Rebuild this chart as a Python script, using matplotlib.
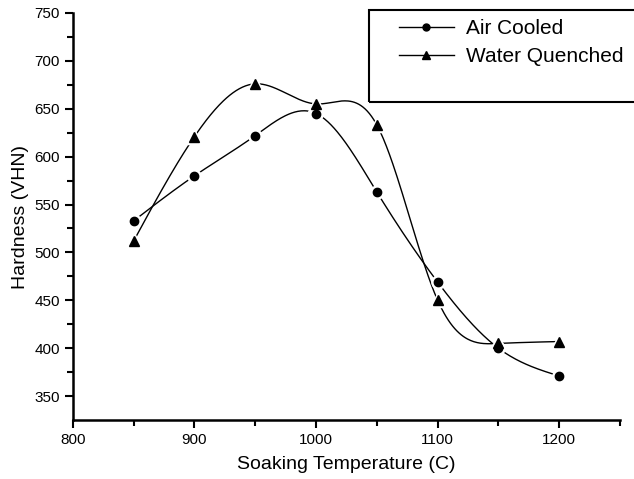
import numpy as np
import matplotlib.pyplot as plt
from matplotlib.patches import Rectangle

plt.rcParams['font.family'] = ['Liberation Sans', 'DejaVu Sans']

temps = [850, 900, 950, 1000, 1050, 1100, 1150, 1200]
air_cooled = [533, 580, 622, 645, 563, 469, 400, 371]
water_quenched = [512, 621, 676, 655, 633, 450, 405, 407]


def spline(x, y, n=400):
    # natural cubic spline through the points, just for drawing the curve
    x = np.asarray(x, float)
    y = np.asarray(y, float)
    h = np.diff(x)
    k = len(x)
    A = np.zeros((k, k))
    b = np.zeros(k)
    A[0, 0] = A[-1, -1] = 1
    for i in range(1, k - 1):
        A[i, i - 1] = h[i - 1]
        A[i, i] = 2 * (h[i - 1] + h[i])
        A[i, i + 1] = h[i]
        b[i] = 6 * ((y[i + 1] - y[i]) / h[i] - (y[i] - y[i - 1]) / h[i - 1])
    m = np.linalg.solve(A, b)
    xs = np.linspace(x[0], x[-1], n)
    idx = np.clip(np.searchsorted(x, xs) - 1, 0, k - 2)
    t = xs - x[idx]
    hi = h[idx]
    a = (m[idx + 1] - m[idx]) / (6 * hi)
    bb = m[idx] / 2
    c = (y[idx + 1] - y[idx]) / hi - hi * (2 * m[idx] + m[idx + 1]) / 6
    ys = y[idx] + c * t + bb * t ** 2 + a * t ** 3
    return xs, ys


fig = plt.figure(figsize=(6.34, 4.79), dpi=100)
ax = fig.add_axes([0.115, 0.123, 0.863, 0.850])

for vals, mk, ms, lab in [(air_cooled, 'o', 8, 'Air Cooled'),
                          (water_quenched, '^', 8.5, 'Water Quenched')]:
    xs, ys = spline(temps, vals)
    ax.plot(xs, ys, color='black', lw=1.0, zorder=2)
    ax.plot(temps, vals, linestyle='none', marker=mk, ms=ms, color='black',
            markeredgecolor='white', markeredgewidth=2.5, zorder=3)
    ax.plot(temps, vals, linestyle='none', marker=mk, ms=ms - 2, color='black', zorder=4)
    ax.plot([], [], color='black', lw=1.0, marker=mk, ms=ms - 3, label=lab)

ax.set_xlim(800, 1250)
ax.set_ylim(325, 750)
ax.set_xticks([800, 900, 1000, 1100, 1200])
ax.set_xticks(np.arange(850, 1251, 100), minor=True)
ax.set_yticks(np.arange(350, 751, 50))
ax.set_yticks(np.arange(375, 751, 50), minor=True)
ax.tick_params(direction='out', length=6, width=1.5, labelsize=11)
ax.tick_params(which='minor', direction='out', length=4, width=1.5)
for s in ['top', 'right']:
    ax.spines[s].set_visible(False)
for s in ['left', 'bottom']:
    ax.spines[s].set_linewidth(1.8)

ax.set_xlabel('Soaking Temperature (C)', fontsize=14, labelpad=6)
ax.set_ylabel('Hardness (VHN)', fontsize=14, labelpad=4)

fig.patches.append(Rectangle((369 / 634, 1 - 102 / 479), 0.5, 92 / 479,
                             transform=fig.transFigure, fill=False,
                             edgecolor='black', lw=1.5, clip_on=False))
fig.legend(loc='upper left', bbox_to_anchor=(391 / 634, 1 - 11 / 479),
           frameon=False, fontsize=15, handlelength=2.6, handletextpad=0.6,
           labelspacing=0.44, borderaxespad=0)

fig.savefig('out.png', dpi=100)
